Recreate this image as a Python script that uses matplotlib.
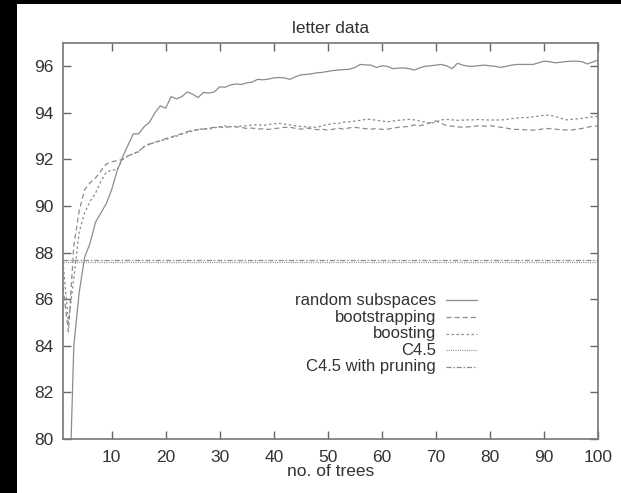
import numpy as np
import matplotlib
matplotlib.use("Agg")
import matplotlib.pyplot as plt
from matplotlib.patches import Rectangle

# number of trees in the ensemble
trees = np.arange(1, 101)

# accuracy (%)
random_subspaces = [
    70.0, 76.0, 84.0, 86.3, 87.8, 88.4, 89.3, 89.7, 90.1, 90.7,
    91.5, 92.1, 92.6, 93.1, 93.1, 93.4, 93.6, 94.0, 94.3, 94.2,
    94.7, 94.6, 94.7, 94.9, 94.8, 94.66, 94.88, 94.85, 94.9, 95.12,
    95.1, 95.2, 95.24, 95.22, 95.29, 95.32, 95.44, 95.42, 95.45, 95.5,
    95.52, 95.5, 95.44, 95.55, 95.63, 95.65, 95.68, 95.72, 95.74, 95.78,
    95.82, 95.84, 95.86, 95.87, 95.95, 96.08, 96.06, 96.05, 95.95, 96.02,
    96.0, 95.9, 95.92, 95.93, 95.9, 95.84, 95.93, 96.0, 96.02, 96.05,
    96.08, 96.02, 95.9, 96.13, 96.05, 96.0, 96.0, 96.03, 96.05, 96.02,
    96.0, 95.95, 96.0, 96.05, 96.08, 96.08, 96.08, 96.08, 96.15, 96.22,
    96.2, 96.15, 96.17, 96.2, 96.22, 96.22, 96.2, 96.1, 96.18, 96.27,
]
bootstrapping = [
    86.5, 84.6, 88.3, 89.8, 90.7, 91.0, 91.2, 91.5, 91.8, 91.9,
    91.95, 92.0, 92.15, 92.25, 92.33, 92.55, 92.65, 92.75, 92.8, 92.9,
    92.95, 93.05, 93.1, 93.2, 93.25, 93.28, 93.3, 93.35, 93.38, 93.4,
    93.36, 93.42, 93.4, 93.38, 93.33, 93.35, 93.3, 93.32, 93.29, 93.32,
    93.35, 93.38, 93.38, 93.34, 93.3, 93.35, 93.32, 93.28, 93.3, 93.26,
    93.3, 93.34, 93.3, 93.36, 93.38, 93.35, 93.32, 93.3, 93.33, 93.29,
    93.3, 93.34, 93.38, 93.4, 93.42, 93.48, 93.45, 93.5, 93.58, 93.66,
    93.55, 93.45, 93.43, 93.4, 93.38, 93.4, 93.42, 93.45, 93.43, 93.45,
    93.42, 93.38, 93.35, 93.3, 93.29, 93.28, 93.27, 93.26, 93.28, 93.32,
    93.33, 93.3, 93.28, 93.27, 93.26, 93.3, 93.33, 93.38, 93.43, 93.43,
]
boosting = [
    87.6, 85.0, 86.9, 88.9, 89.7, 90.2, 90.55, 91.05, 91.45, 91.55,
    91.55, 92.0, 92.15, 92.25, 92.35, 92.55, 92.68, 92.72, 92.8, 92.85,
    92.95, 93.0, 93.1, 93.15, 93.22, 93.29, 93.32, 93.3, 93.36, 93.4,
    93.44, 93.4, 93.42, 93.43, 93.45, 93.48, 93.5, 93.46, 93.5, 93.53,
    93.55, 93.52, 93.48, 93.45, 93.42, 93.4, 93.39, 93.38, 93.45, 93.5,
    93.55, 93.55, 93.6, 93.62, 93.65, 93.68, 93.72, 93.72, 93.68, 93.65,
    93.62, 93.65, 93.68, 93.7, 93.72, 93.7, 93.65, 93.6, 93.55, 93.6,
    93.7, 93.72, 93.7, 93.68, 93.69, 93.7, 93.7, 93.72, 93.7, 93.69,
    93.7, 93.69, 93.72, 93.75, 93.78, 93.8, 93.8, 93.83, 93.86, 93.9,
    93.9, 93.85, 93.78, 93.7, 93.72, 93.74, 93.76, 93.8, 93.83, 93.86,
]
c45 = 87.6
c45_pruning = 87.7

labels = ["random subspaces", "bootstrapping", "boosting", "C4.5", "C4.5 with pruning"]
styles = ["-", (0, (4, 2.5)), (0, (2, 2)), (0, (0.8, 1.0)), (0, (4, 1.5, 1.2, 1.5))]

xticks = np.arange(10, 101, 10)
yticks = np.arange(80, 97, 2)

plt.rcParams["font.family"] = ["Liberation Sans", "DejaVu Sans"]
line_col = "#8c8c8c"
txt_col = "#333333"
lw = 0.9

fig = plt.figure(figsize=(6.21, 4.93), dpi=100, facecolor="white")

# white page over the whole figure, then the black strips of the scan (left, top)
fig.add_artist(Rectangle((0, 0), 1, 1, transform=fig.transFigure,
                         facecolor="white", edgecolor="none", zorder=-5))
fig.add_artist(Rectangle((0, 0), 17 / 621, 1, transform=fig.transFigure,
                         facecolor="black", edgecolor="none", zorder=10))
fig.add_artist(Rectangle((0, 1 - 4 / 493), 1, 4 / 493, transform=fig.transFigure,
                         facecolor="black", edgecolor="none", zorder=10))

ax = fig.add_axes([63 / 621, 54 / 493, 535 / 621, 396 / 493])
ax.set_facecolor("white")

ax.plot(trees, random_subspaces, linestyle=styles[0], color=line_col, lw=lw)
ax.plot(trees, bootstrapping, linestyle=styles[1], color=line_col, lw=lw)
ax.plot(trees, boosting, linestyle=styles[2], color=line_col, lw=lw)
ax.axhline(c45, linestyle=styles[3], color=line_col, lw=lw)
ax.axhline(c45_pruning, linestyle=styles[4], color=line_col, lw=lw)

ax.set_xlim(1, 100)
ax.set_ylim(80, 97)
ax.set_xticks(xticks)
ax.set_yticks(yticks)
ax.tick_params(direction="in", length=6, width=1, color="#666666",
               top=True, right=True, labelsize=12.5, labelcolor=txt_col)
ax.tick_params(axis="x", pad=8)
ax.tick_params(axis="y", pad=7)
for s in ax.spines.values():
    s.set_color("#777777")
    s.set_linewidth(1.2)

ax.set_title("letter data", fontsize=12.5, color=txt_col, pad=7)
ax.set_xlabel("no. of trees", fontsize=12.5, color=txt_col, labelpad=-1)

# gnuplot-style key: right aligned labels with sample line after
row_y = [0.351, 0.308, 0.266, 0.224, 0.182]
for lab, ls, yy in zip(labels, styles, row_y):
    ax.text(0.697, yy, lab, transform=ax.transAxes, ha="right", va="center",
            fontsize=12, color=txt_col)
    ax.plot([0.716, 0.774], [yy, yy], transform=ax.transAxes,
            linestyle=ls, color=line_col, lw=lw)

fig.savefig("out.png", dpi=100)
